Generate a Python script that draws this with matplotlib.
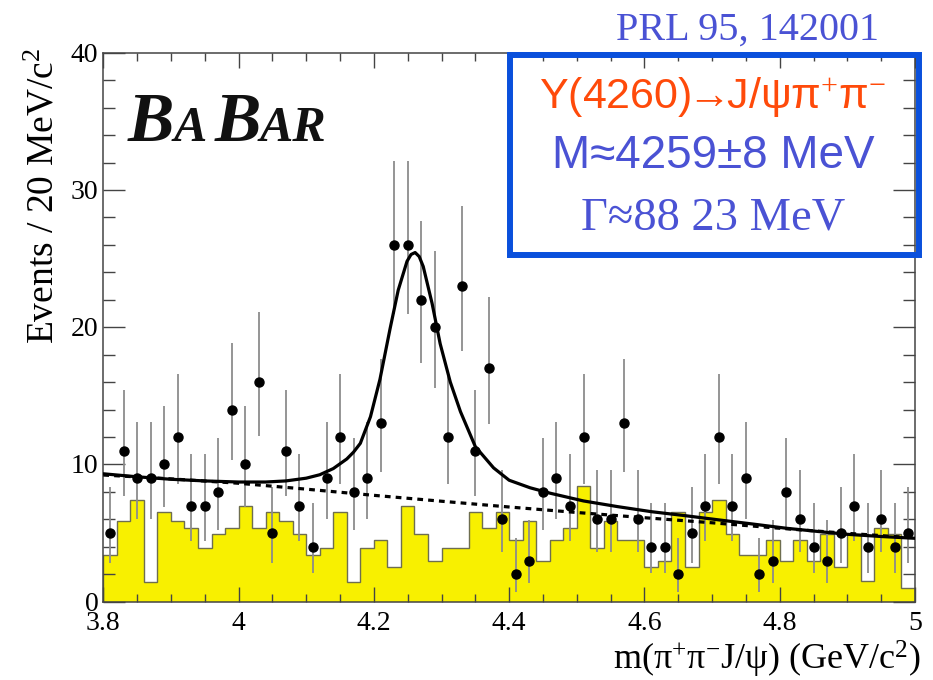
import numpy as np
import matplotlib
matplotlib.use('Agg')
import matplotlib.pyplot as plt
from matplotlib.patches import Rectangle
from matplotlib.ticker import MultipleLocator
from matplotlib.transforms import offset_copy

W, H, DPI = 933, 680, 100

# ---------------- data ----------------
mass_lo, mass_hi, n_bins = 3.80, 5.00, 60

events = [5, 11, 9, 9, 10, 12, 7, 7, 8, 14,
          10, 16, 5, 11, 7, 4, 9, 12, 8, 9,
          13, 26, 26, 22, 20, 12, 23, 11, 17, 6,
          2, 3, 8, 9, 7, 12, 6, 6, 13, 6,
          4, 4, 2, 5, 7, 12, 7, 9, 2, 3,
          8, 6, 4, 3, 5, 7, 4, 6, 4, 5]

sideband = [3.4, 5.9, 7.4, 1.4, 6.5, 5.9, 5.4, 3.9, 4.9, 5.4,
            6.95, 5.4, 6.5, 5.9, 4.9, 3.4, 3.9, 6.5, 1.4, 3.9,
            4.5, 2.5, 6.95, 4.95, 3.0, 3.9, 3.9, 6.5, 5.4, 6.5,
            4.5, 5.9, 3.0, 4.5, 5.4, 8.4, 3.9, 5.9, 4.5, 4.5,
            2.5, 3.0, 6.5, 2.5, 6.5, 7.4, 4.95, 3.4, 3.4, 4.5,
            3.0, 4.5, 3.0, 4.95, 2.5, 4.95, 1.5, 5.4, 4.95, 1.0]

# error-bar extents (lower / upper end) read for each count value
bar_low = {2: 0.71, 3: 1.37, 4: 2.09, 5: 2.84, 6: 3.62, 7: 4.42, 8: 5.23,
           9: 6.06, 10: 6.89, 11: 7.73, 12: 8.59, 13: 9.44, 14: 10.3,
           16: 12.04, 17: 12.92, 20: 15.57, 22: 17.36, 23: 18.26, 26: 20.96}
bar_high = {2: 4.64, 3: 5.92, 4: 7.16, 5: 8.38, 6: 9.58, 7: 10.77, 8: 11.95,
            9: 13.11, 10: 14.27, 11: 15.42, 12: 16.56, 13: 17.70, 14: 18.83,
            16: 21.08, 17: 22.20, 20: 25.54, 22: 27.74, 23: 28.84, 26: 32.12}

# fit curve (signal + background)
fit_x = [3.80, 3.85, 3.90, 3.95, 4.00, 4.04, 4.07, 4.10, 4.12, 4.14,
         4.16, 4.17, 4.18, 4.195, 4.209, 4.224, 4.236, 4.249, 4.255, 4.261,
         4.267, 4.273, 4.286, 4.298, 4.313, 4.328, 4.350, 4.377, 4.40, 4.431,
         4.461, 4.51, 4.56, 4.61, 4.66, 4.71, 4.76, 4.81, 4.86, 4.90,
         4.95, 5.00]
fit_y = [9.32, 9.10, 8.92, 8.80, 8.72, 8.72, 8.80, 9.00, 9.25, 9.70,
         10.40, 10.90, 11.54, 13.48, 16.20, 19.90, 22.70, 24.80, 25.30, 25.44,
         25.15, 24.42, 21.75, 18.80, 16.00, 13.85, 11.30, 9.75, 8.85, 8.30,
         7.90, 7.34, 6.93, 6.56, 6.27, 5.96, 5.66, 5.35, 5.10, 4.91,
         4.75, 4.62]

# background component (dashed)
bkg_x = [3.80, 3.90, 4.00, 4.10, 4.20, 4.30, 4.40, 4.50, 4.60, 4.70, 4.80, 4.90, 5.00]
bkg_y = [9.23, 8.95, 8.63, 8.20, 7.75, 7.32, 6.90, 6.50, 6.12, 5.75, 5.35, 4.98, 4.65]

x_ticks = [3.8, 4.0, 4.2, 4.4, 4.6, 4.8, 5.0]
x_tick_labels = ['3.8', '4', '4.2', '4.4', '4.6', '4.8', '5']
y_ticks = [0, 10, 20, 30, 40]
y_tick_labels = ['0', '10', '20', '30', '40']

# ---------------- figure ----------------
plt.rcParams['font.family'] = 'serif'
plt.rcParams['font.serif'] = ['Liberation Serif', 'DejaVu Serif']
plt.rcParams['font.sans-serif'] = ['Liberation Sans', 'DejaVu Sans']
plt.rcParams['mathtext.fontset'] = 'custom'
plt.rcParams['mathtext.rm'] = 'Liberation Serif'
plt.rcParams['mathtext.it'] = 'Liberation Serif:italic'
SERIF = ['Liberation Serif', 'DejaVu Serif']
SANS = ['Liberation Sans', 'DejaVu Sans']

fig = plt.figure(figsize=(W / DPI, H / DPI), dpi=DPI)
fig.patch.set_facecolor('white')

def fx(px):
    return px / W

def fy(py):
    return 1 - py / H

ax_l, ax_r, ax_t, ax_b = 103.3, 915.0, 52.7, 601.7
ax = fig.add_axes([fx(ax_l), fy(ax_b), (ax_r - ax_l) / W, (ax_b - ax_t) / H])

edges = np.linspace(mass_lo, mass_hi, n_bins + 1)
centers = 0.5 * (edges[:-1] + edges[1:])

ax.stairs(sideband, edges, fill=True, facecolor='#f8f000',
          edgecolor='none', zorder=1)
ax.stairs(sideband, edges, fill=False, edgecolor='#6e6e50', linewidth=1.0, zorder=1.1)

ev = np.array(events, dtype=float)
lo = np.array([ev_i - bar_low[int(ev_i)] for ev_i in ev])
hi = np.array([bar_high[int(ev_i)] - ev_i for ev_i in ev])
ax.errorbar(centers, ev, yerr=[lo, hi], fmt='none', ecolor='#8c8c8c',
            elinewidth=1.3, capsize=0, zorder=2)

ax.plot(bkg_x, bkg_y, color='black', lw=2.3, ls=(0, (1.8, 1.6)), zorder=3)
ax.plot(fit_x, fit_y, color='black', lw=2.3, zorder=3.2,
        solid_joinstyle='round', solid_capstyle='round')
ax.plot(centers, ev, 'o', color='black', ms=6.5, zorder=4)

ax.set_xlim(mass_lo, mass_hi)
ax.set_ylim(0, 40)
ax.set_xticks(x_ticks)
ax.set_yticks(y_ticks)
ax.set_xticklabels([])
ax.set_yticklabels([])
ax.xaxis.set_minor_locator(MultipleLocator(0.05))
ax.yaxis.set_minor_locator(MultipleLocator(2))
frame_col = '#444444'
for sp in ax.spines.values():
    sp.set_color(frame_col)
    sp.set_linewidth(1.1)
ax.tick_params(axis='x', which='major', direction='in', length=10.5, width=1.0,
               top=True, bottom=True, color=frame_col)
ax.tick_params(axis='x', which='minor', direction='in', length=5.5, width=1.0,
               top=True, bottom=True, color=frame_col)
ax.tick_params(axis='y', which='major', direction='in', length=16, width=1.0,
               left=True, right=True, color=frame_col)
ax.tick_params(axis='y', which='minor', direction='in', length=8.5, width=1.0,
               left=True, right=True, color=frame_col)

# tick labels drawn as serif text at the tick positions
px2pt = 72.0 / DPI
xlab_tr = offset_copy(ax.get_xaxis_transform(), fig=fig, x=0, y=-28.5 * px2pt, units='points')
for xv, lab in zip(x_ticks, x_tick_labels):
    ax.text(xv, 0, lab, transform=xlab_tr, ha='center', va='baseline',
            fontsize=20, family=SERIF, clip_on=False)
ylab_tr = offset_copy(ax.get_yaxis_transform(), fig=fig, x=-5 * px2pt, y=-9 * px2pt, units='points')
for yv, lab in zip(y_ticks, y_tick_labels):
    ax.text(0, yv, lab, transform=ylab_tr, ha='right', va='baseline',
            fontsize=20, family=SERIF, clip_on=False)

# axis titles
fig.text(fx(44), fy(48), 'Events / 20 MeV/c$^{2}$', rotation=90, ha='center', va='top',
         fontsize=27, family=SERIF)
fig.text(fx(921), fy(659), 'm(π$^{+}$π$^{-}$J/ψ) (GeV/c$^{2}$)', ha='right', va='center',
         fontsize=26, family=SERIF)

# BaBar logo
renderer = fig.canvas.get_renderer()
xpos = 128
base = fy(140.7)
for txt, size, gap in [('B', 50, -1), ('A', 36, 8), ('B', 50, -2), ('AR', 36, 0)]:
    t = fig.text(fx(xpos), base, txt, fontsize=size, family=SERIF, weight='bold',
                 style='italic', ha='left', va='baseline', color='#111111')
    bb = t.get_window_extent(renderer)
    xpos = bb.x1 + gap

# reference label and box
blue_txt = '#4a52d4'
fig.text(fx(747), fy(40), 'PRL 95, 142001', ha='center', va='baseline',
         fontsize=29, family=SERIF, color=blue_txt)

box = Rectangle((fx(510), fy(254.5)), (918.5 - 510) / W, (254.5 - 55) / H,
                transform=fig.transFigure, fill=False, edgecolor='#0a50dc',
                linewidth=4.3, zorder=10)
fig.add_artist(box)

fig.text(fx(713), fy(108), 'Y(4260)$\\!\\!\\rightarrow\\!\\!$J/ψπ$^{+}$π$^{-}$', ha='center',
         va='baseline', fontsize=31, family=SANS, color='#ff4a0a')
fig.text(fx(713), fy(168), 'M≈4259±8 MeV', ha='center', va='baseline',
         fontsize=33, family=SANS, color=blue_txt)
fig.text(fx(713), fy(230), 'Γ≈88 23 MeV', ha='center', va='baseline',
         fontsize=33.5, family=SERIF, color=blue_txt)

fig.savefig('out.png', dpi=DPI, facecolor='white')
